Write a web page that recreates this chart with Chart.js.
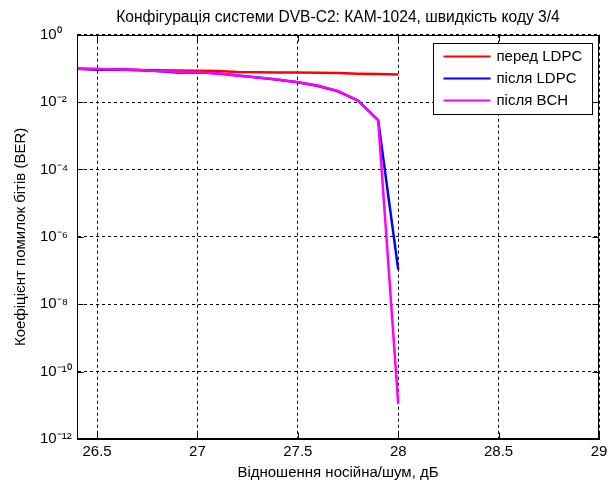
<!DOCTYPE html>
<html>
<head>
<meta charset="utf-8">
<script src="https://cdn.jsdelivr.net/npm/chart.js@4/dist/chart.umd.min.js"></script>
<style>
  html, body { margin: 0; padding: 0; background: #fff; }
</style>
</head>
<body>
<canvas id="ber" width="614" height="484"></canvas>
<script>
// Відношення носійна/шум, дБ
const snr = [26.4, 26.5, 26.6, 26.7, 26.8, 26.9, 27.0, 27.1, 27.2, 27.3, 27.4, 27.5, 27.6, 27.7, 27.8, 27.9, 28.0];

// BER до та після декодування
const berBeforeLdpc = [0.098, 0.096, 0.093, 0.090, 0.088, 0.087, 0.085, 0.084, 0.078, 0.077, 0.076, 0.076, 0.074, 0.073, 0.070, 0.068, 0.066];
const berAfterLdpc  = [0.098, 0.092, 0.093, 0.090, 0.084, 0.076, 0.077, 0.071, 0.062, 0.054, 0.046, 0.039, 0.030, 0.021, 0.0110, 0.0029, 1.07e-7];
const berAfterBch   = [0.098, 0.096, 0.093, 0.090, 0.084, 0.080, 0.078, 0.071, 0.062, 0.054, 0.047, 0.039, 0.031, 0.021, 0.0112, 0.00286, 1.1e-11];

const seriesLabels = ['перед LDPC', 'після LDPC', 'після BCH'];
const xTicks = [26.5, 27, 27.5, 28, 28.5, 29];
const yTickExps = [0, -2, -4, -6, -8, -10, -12];

const FONT = "'Liberation Sans', Arial, sans-serif";
Chart.defaults.font.family = FONT;
Chart.defaults.font.size = 15;
Chart.defaults.color = '#000';

const SUP = { '0': '⁰', '1': '¹', '2': '²', '3': '³', '4': '⁴', '5': '⁵', '6': '⁶', '7': '⁷', '8': '⁸', '9': '⁹', '-': '⁻' };
const toSup = s => String(s).split('').map(c => SUP[c] || c).join('');

// рамка навколо осей + внутрішні засічки (як у MATLAB)
const framePlugin = {
    id: 'frame',
    afterDatasetsDraw(chart) {
        const { ctx, chartArea: a, scales: { x, y } } = chart;
        const L = Math.round(a.left) + 0.5, R = Math.round(a.right) - 0.5;
        const T = Math.round(a.top) + 0.5, B = Math.round(a.bottom) - 0.5;
        ctx.save();
        ctx.strokeStyle = '#000';
        ctx.lineWidth = 1;
        ctx.beginPath();
        ctx.rect(L, T, R - L, B - T);
        xTicks.forEach(v => {
            const px = Math.round(x.getPixelForValue(v)) + 0.5;
            ctx.moveTo(px, B); ctx.lineTo(px, B - 6);
            ctx.moveTo(px, T); ctx.lineTo(px, T + 6);
        });
        yTickExps.forEach(e => {
            const py = Math.round(y.getPixelForValue(Math.pow(10, e))) + 0.5;
            ctx.moveTo(L, py); ctx.lineTo(L + 6, py);
            ctx.moveTo(R, py); ctx.lineTo(R - 6, py);
        });
        ctx.stroke();
        ctx.restore();
    }
};

// легенда в правому верхньому куті
const boxLegendPlugin = {
    id: 'boxLegend',
    afterDraw(chart) {
        const { ctx, chartArea: a } = chart;
        const w = 159, h = 71;
        const left = Math.round(a.right - 7 - w) + 0.5, top = Math.round(a.top + 8) + 0.5;
        ctx.save();
        ctx.fillStyle = '#fff';
        ctx.strokeStyle = '#000';
        ctx.lineWidth = 1;
        ctx.fillRect(left, top, w, h);
        ctx.strokeRect(left, top, w, h);
        ctx.font = '15px ' + FONT;
        ctx.textBaseline = 'middle';
        ctx.fillStyle = '#000';
        chart.data.datasets.forEach((ds, i) => {
            const yy = top + 13 + i * 22;
            ctx.strokeStyle = ds.borderColor;
            ctx.lineWidth = 2;
            ctx.beginPath();
            ctx.moveTo(left + 10, yy);
            ctx.lineTo(left + 57, yy);
            ctx.stroke();
            ctx.fillText(ds.label, left + 63, yy);
        });
        ctx.restore();
    }
};

// order: менше значення малюється зверху
const mkLine = (label, data, color, order) => ({
    label, data, borderColor: color, backgroundColor: color, order,
    borderWidth: 2.5, pointRadius: 0, tension: 0, fill: false
});

new Chart(document.getElementById('ber'), {
    type: 'line',
    data: {
        datasets: [
            mkLine(seriesLabels[0], snr.map((v, i) => ({ x: v, y: berBeforeLdpc[i] })), '#ff0000', 3),
            mkLine(seriesLabels[1], snr.map((v, i) => ({ x: v, y: berAfterLdpc[i] })), '#0000ff', 2),
            mkLine(seriesLabels[2], snr.map((v, i) => ({ x: v, y: berAfterBch[i] })), '#ff00ff', 1)
        ]
    },
    options: {
        responsive: false,
        animation: false,
        devicePixelRatio: 1,
        layout: { padding: { left: 0, right: 15, top: 0, bottom: 0 } },
        plugins: {
            legend: { display: false },
            tooltip: { enabled: false },
            title: {
                display: true,
                fullSize: false,
                text: 'Конфігурація системи DVB-C2: КАМ-1024, швидкість коду 3/4',
                font: { size: 15.6, weight: 'normal' },
                color: '#000',
                padding: { top: 8, bottom: 8 }
            }
        },
        scales: {
            x: {
                type: 'linear',
                min: 26.4,
                max: 29,
                afterBuildTicks: s => { s.ticks = xTicks.map(v => ({ value: v })); },
                afterFit: s => { s.height = 45; },
                grid: { color: '#000', lineWidth: 1, drawTicks: false },
                border: { display: true, color: '#000', width: 1, dash: [3, 3] },
                ticks: { padding: 4, autoSkip: false, maxRotation: 0, callback: v => String(v) },
                title: { display: true, text: 'Відношення носійна/шум, дБ', padding: { top: 0, bottom: 2 } }
            },
            y: {
                type: 'logarithmic',
                min: 1e-12,
                max: 1,
                afterBuildTicks: s => { s.ticks = yTickExps.map(e => ({ value: Math.pow(10, e) })); },
                afterFit: s => { s.width = 37; },
                grid: { color: '#000', lineWidth: 1, drawTicks: false },
                border: { display: true, color: '#000', width: 1, dash: [3, 3] },
                ticks: {
                    crossAlign: 'far',
                    padding: 0,
                    autoSkip: false,
                    callback: v => '10' + toSup(Math.round(Math.log10(v)))
                }
            },
            // окрема вісь лише для підпису ліворуч
            yTitle: {
                type: 'linear',
                position: 'left',
                weight: 10,
                afterFit: s => { s.width = 40; },
                grid: { display: false },
                border: { display: false },
                ticks: { display: false },
                title: { display: true, text: 'Коефіцієнт помилок бітів (BER)', padding: { top: 12, bottom: 0 } }
            }
        }
    },
    plugins: [framePlugin, boxLegendPlugin]
});
</script>
</body>
</html>
